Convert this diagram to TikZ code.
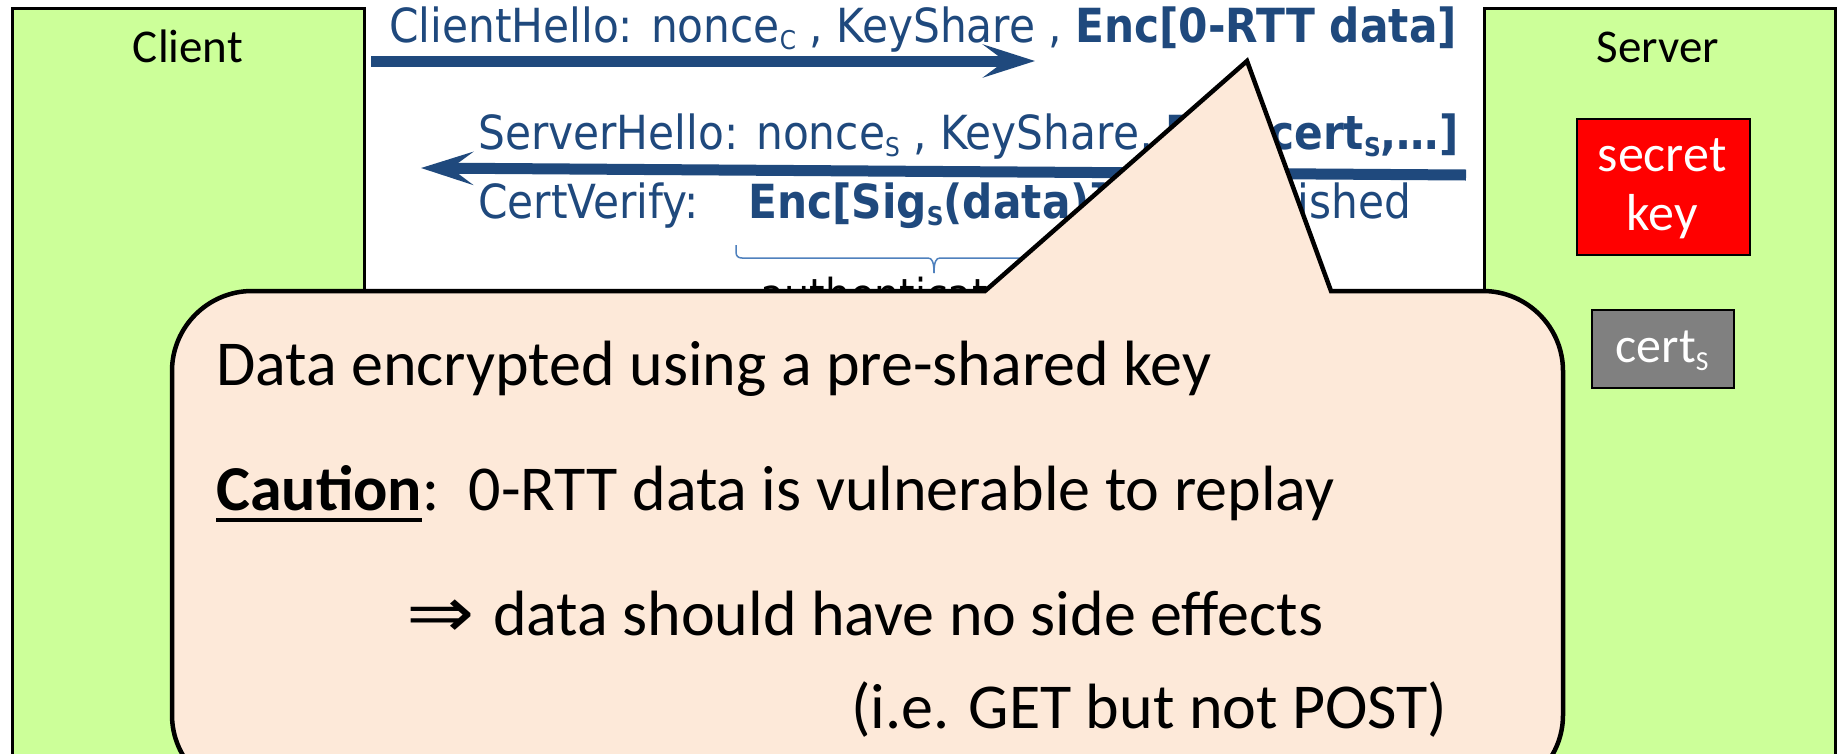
\documentclass[tikz,border=0pt]{standalone}
\usepackage{graphicx}
\usepackage{fontspec}
\setmainfont{Carlito}
\newfontfamily\msgfont[FakeStretch=0.9]{DejaVu Sans}
\newfontfamily\arrowfont{DejaVu Sans}
\usetikzlibrary{arrows.meta}

\definecolor{partygreen}{HTML}{CCFF99}
\definecolor{msgblue}{HTML}{1F497D}
\definecolor{bracecol}{HTML}{4F81BD}
\definecolor{calloutfill}{HTML}{FDE9D9}
\definecolor{keyred}{HTML}{FF0000}
\definecolor{certgray}{HTML}{808080}

\newcommand{\fsz}[1]{\fontsize{#1}{#1}\selectfont}
\newcommand{\lowsub}[1]{\raisebox{-0.17em}{\scalebox{0.55}{#1}}}

\tikzset{
  txt/.style={inner sep=0pt, anchor=base west},
  partybox/.style={draw=black, line width=2.5pt, fill=partygreen, inner sep=0pt, anchor=north west},
  partylabel/.style={inner sep=0pt, anchor=base, font=\fsz{47}},
  msg/.style={txt, font=\msgfont\fsz{47}, text=msgblue},
  msgarrow/.style={draw=msgblue, line width=11pt, -{Stealth[length=52pt, width=33pt, inset=22pt]}},
  calltext/.style={txt, font=\fsz{64}},
  callout/.style={draw=black, line width=4.5pt, fill=calloutfill, line join=miter},
  keybox/.style={draw=black, line width=2pt, fill=keyred, inner sep=0pt, anchor=north west},
  certbox/.style={draw=black, line width=2pt, fill=certgray, inner sep=0pt, anchor=north west},
  boxtext/.style={inner sep=0pt, anchor=base, text=white},
}

\begin{document}
\begin{tikzpicture}[x=1pt, y=-1pt]
\path[use as bounding box] (0,0) rectangle (1839,753);
\clip (0,0) rectangle (1839,753);
\fill[white] (0,0) rectangle (1839,753);

% the two parties
\node (client) [partybox, minimum width=352pt, minimum height=800pt] at (11,7) {};
\node (clientlbl) [partylabel] at (188,62) {Client};
\node (server) [partybox, minimum width=351pt, minimum height=800pt] at (1483,7) {};
\node (serverlbl) [partylabel] at (1658,62) {Server};

% server material
\node (skey) [keybox, minimum width=173pt, minimum height=136pt] at (1576,118) {};
\node (skey1) [boxtext, font=\fsz{52}] at (1662,171) {secret};
\node (skey2) [boxtext, font=\fsz{52}] at (1662,230) {key};
\node (cert) [certbox, minimum width=142pt, minimum height=78pt] at (1591,309) {};
\node (certlbl) [boxtext, font=\fsz{50}] at (1662,362) {cert\lowsub{S}};

% handshake messages
\node (chello) [msg] at (389,42) {ClientHello: nonce\lowsub{C} , KeyShare , \textbf{Enc[0-RTT data]}};
\coordinate (ch-from) at (371,61);
\coordinate (ch-to) at (1035,61);
\draw[msgarrow] (ch-from) -- (ch-to);

\node (shello) [msg] at (478,149) {ServerHello: nonce\lowsub{S} , KeyShare, \textbf{Enc[cert\lowsub{S},\dots]}};
\coordinate (sh-from) at (1466,175);
\coordinate (sh-to) at (421,168);
\draw[msgarrow] (sh-from) -- (sh-to);

\node (cverify) [msg] at (478,218) {CertVerify:};
\node (cvbody) [msg] at (748,218) {\textbf{Enc[Sig\lowsub{S}(data)]}};
\node (cvfin) [msg, anchor=base east] at (1411,218) {, Finished};

% brace over the authenticated part
\draw[bracecol, line width=1.5pt] (736,245) -- (736,252) .. controls (736,256) and (738,258) .. (742,258)
  -- (928,258) .. controls (932,258) and (934,262) .. (934,273);
\draw[bracecol, line width=1.5pt] (934,273) .. controls (934,262) and (936,258) .. (940,258)
  -- (1126,258) .. controls (1130,258) and (1132,256) .. (1132,252) -- (1132,245);
\node (authlbl) [txt, font=\msgfont\fsz{44}] at (760,310) {authenticated};

% speech bubble
\draw[callout] (985,291) -- (252,291) .. controls (208,291) and (172,327) .. (172,371)
  -- (172,715) .. controls (172,759) and (208,795) .. (252,795)
  -- (1483,795) .. controls (1527,795) and (1563,759) .. (1563,715)
  -- (1563,371) .. controls (1563,327) and (1527,291) .. (1483,291)
  -- (1331,291) -- (1247,61) -- cycle;

\node (line1) [calltext] at (216,385) {Data encrypted using a pre-shared key};
\node (caution) [calltext] at (216,510) {\textbf{Caution}};
\draw[line width=4pt] ([yshift=-10pt]caution.base west) -- ([yshift=-10pt]caution.base east);
\node (line2) [calltext] at (caution.base east) {:\ \ 0-RTT data is vulnerable to replay};
\node (implies) [txt, font=\arrowfont\fsz{68}] at (406,637) {\scalebox{1.2}[1.05]{⇒}};
\node (line3) [calltext] at (493,635) {data should have no side effects};
\node (line4) [calltext] at (851,728) {(i.e. GET but not POST)};
\end{tikzpicture}
\end{document}
